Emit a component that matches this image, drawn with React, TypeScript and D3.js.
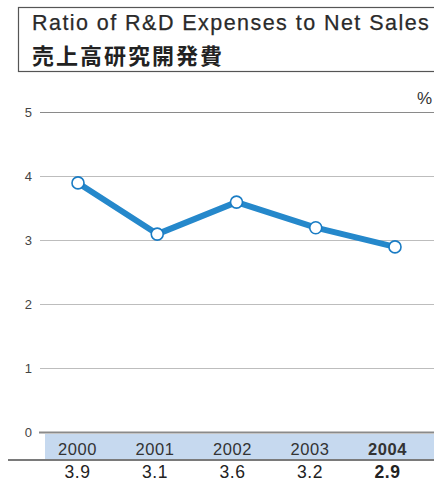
import React from 'react';
import * as d3 from 'd3';

const years = ['2000', '2001', '2002', '2003', '2004'];
const ratios = [3.9, 3.1, 3.6, 3.2, 2.9];
const valueLabels = ['3.9', '3.1', '3.6', '3.2', '2.9'];
const yTicks = [0, 1, 2, 3, 4, 5];

const W = 434;
const H = 482;
const sans = '"Liberation Sans", Arial, sans-serif';
const jp = '"Noto Sans CJK JP", sans-serif';

const App = () => {
  const y = d3.scaleLinear().domain([0, 5]).range([432.5, 112.5]);
  const xLine = d3.scalePoint<string>().domain(years).range([78, 395]);
  const xLabel = d3.scalePoint<string>().domain(years).range([77.5, 387.5]);

  const line = d3.line<number>()
    .x((d, i) => xLine(years[i]) as number)
    .y(d => y(d));

  const last = years.length - 1;

  return (
    <svg width={W} height={H} style={{ position: 'absolute', left: 0, top: 0, background: '#fff' }}>
      {/* title box */}
      <rect x={18.5} y={7.5} width={W} height={64} fill="none" stroke="#555" strokeWidth={1.2} />
      <text x={32} y={30} fontFamily={sans} fontSize={21.5} fill="#2a2a2a" letterSpacing={1.45}
        stroke="#2a2a2a" strokeWidth={0.25}>
        Ratio of R&amp;D Expenses to Net Sales
      </text>
      <text x={32} y={64} fontFamily={jp} fontSize={22} fontWeight="bold" fill="#222" letterSpacing={2}>
        売上高研究開発費
      </text>
      <text x={432} y={104} fontFamily={sans} fontSize={17} fill="#333" textAnchor="end">%</text>

      {/* grid */}
      {yTicks.map(t => (
        <g key={t}>
          {t > 0 && (
            <line x1={40} x2={W} y1={y(t)} y2={y(t)}
              stroke={t === 5 ? '#8a8a8a' : '#bdbdbd'} strokeWidth={1.2} />
          )}
          <text x={32} y={y(t) + 4.5} fontFamily={sans} fontSize={13} fill="#444" textAnchor="end">{t}</text>
        </g>
      ))}

      {/* year band */}
      <rect x={45} y={434} width={W - 45} height={25} fill="#c6d9ef" />
      <line x1={39} x2={W} y1={y(0)} y2={y(0)} stroke="#8a8a8a" strokeWidth={2} />
      <line x1={8} x2={W} y1={460} y2={460} stroke="#7a7a7a" strokeWidth={2} />

      {years.map((yr, i) => (
        <text key={yr} x={xLabel(yr)} y={455} fontFamily={sans} fontSize={16.5} letterSpacing={0.6}
          fontWeight={i === last ? 'bold' : 'normal'} fill="#333" textAnchor="middle">{yr}</text>
      ))}
      {valueLabels.map((v, i) => (
        <text key={i} x={xLabel(years[i])} y={478} fontFamily={sans} fontSize={17.5} letterSpacing={0.5}
          fontWeight={i === last ? 'bold' : 'normal'} fill="#222" textAnchor="middle">{v}</text>
      ))}

      {/* line */}
      <path d={line(ratios) || ''} fill="none" stroke="#2588cb" strokeWidth={6} strokeLinejoin="round" />
      {ratios.map((r, i) => (
        <circle key={i} cx={xLine(years[i])} cy={y(r)} r={6} fill="#fff" stroke="#1a7cc4" strokeWidth={1.6} />
      ))}
    </svg>
  );
};

export default App;
